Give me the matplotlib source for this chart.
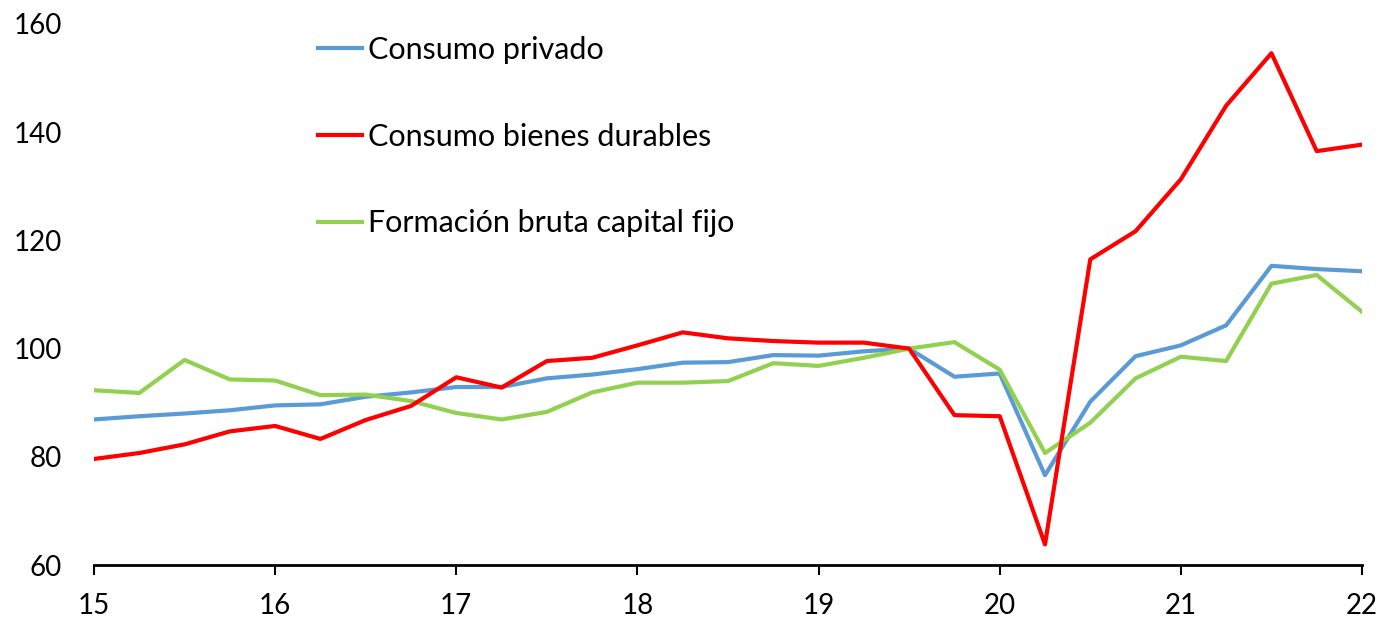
import matplotlib
matplotlib.use("Agg")
import matplotlib.pyplot as plt
import numpy as np

# trimestres 2015T1 .. 2022T1 (eje en años abreviados)
trimestres = np.arange(15, 22.01, 0.25)

consumo_privado = [86.9, 87.5, 88.0, 88.6, 89.5, 89.7, 91.1, 91.9, 92.9, 92.9,
                   94.5, 95.2, 96.2, 97.4, 97.5, 98.8, 98.7, 99.5, 100.0, 94.8,
                   95.4, 76.6, 90.2, 98.6, 100.6, 104.3, 115.3, 114.7, 114.3]
bienes_durables = [79.6, 80.7, 82.3, 84.7, 85.7, 83.3, 86.8, 89.4, 94.7, 92.8,
                   97.7, 98.3, 100.6, 103.0, 101.9, 101.4, 101.1, 101.1, 100.0, 87.7,
                   87.5, 63.8, 116.5, 121.7, 131.3, 144.9, 154.6, 136.5, 137.7]
fbcf = [92.3, 91.8, 97.9, 94.3, 94.1, 91.4, 91.5, 90.3, 88.1, 86.9,
        88.3, 91.9, 93.7, 93.7, 94.0, 97.3, 96.8, 98.3, 100.0, 101.2,
        96.1, 80.7, 86.3, 94.5, 98.5, 97.7, 112.0, 113.6, 106.8]

etiquetas = ["Consumo privado", "Consumo bienes durables", "Formación bruta capital fijo"]
ticks_x = [15, 16, 17, 18, 19, 20, 21, 22]
ticks_y = [60, 80, 100, 120, 140, 160]

plt.rcParams['font.family'] = ['Lato', 'DejaVu Sans']

fig = plt.figure(figsize=(13.83, 6.22), dpi=100)
ax = fig.add_axes([94 / 1383, 1 - 565 / 622, (1362 - 94) / 1383, (565 - 24) / 622])

ax.plot(trimestres, consumo_privado, color='#5B9BD5', lw=3, label=etiquetas[0], zorder=3)
ax.plot(trimestres, bienes_durables, color='#FF0000', lw=3, label=etiquetas[1], zorder=5)
ax.plot(trimestres, fbcf, color='#92D050', lw=3, label=etiquetas[2], zorder=4)

ax.set_xlim(15, 22)
ax.set_ylim(60, 160)
ax.set_xticks(ticks_x)
ax.set_xticklabels([str(t) for t in ticks_x])
ax.set_yticks(ticks_y)

for s in ['top', 'right', 'left']:
    ax.spines[s].set_visible(False)
ax.spines['bottom'].set_linewidth(2)
ax.tick_params(axis='x', direction='out', length=7, width=1.5, pad=13, labelsize=20)
ax.tick_params(axis='y', length=0, pad=23, labelsize=20)

leg = ax.legend(loc='upper left', bbox_to_anchor=(318 / 1383, 1 - 36 / 622),
                bbox_transform=fig.transFigure, frameon=False, fontsize=22,
                handlelength=1.45, handletextpad=0.18, labelspacing=1.92,
                borderpad=0, borderaxespad=0)

fig.savefig("out.png", dpi=100)
